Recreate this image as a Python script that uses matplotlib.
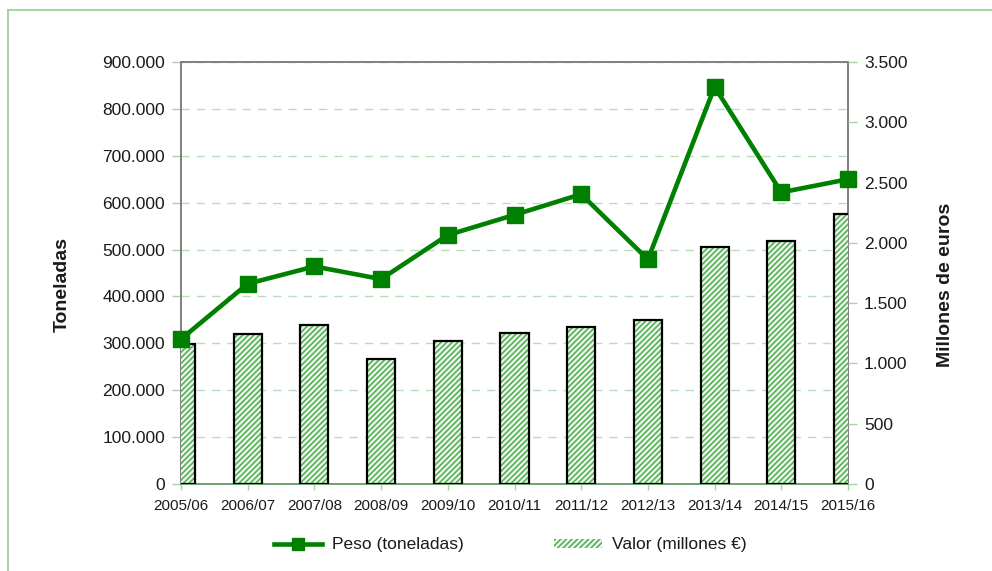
import matplotlib
matplotlib.use("Agg")
import matplotlib.pyplot as plt
from matplotlib.lines import Line2D
from matplotlib.patches import Patch
from matplotlib.ticker import FuncFormatter, MultipleLocator
import numpy as np

categories = ["2005/06", "2006/07", "2007/08", "2008/09", "2009/10", "2010/11",
              "2011/12", "2012/13", "2013/14", "2014/15", "2015/16"]
peso_toneladas = [309000, 427000, 464000, 437000, 531000, 574000,
                  618000, 479000, 847000, 622000, 650000]
valor_millones = [1161, 1247, 1319, 1034, 1186, 1250,
                  1303, 1360, 1968, 2018, 2239]

LINE_GREEN = "#008000"
HATCH_GREEN = "#55b055"
GRID_GREEN = "#b9ddb9"
TICK_GREEN = "#a6d4a6"
TEXT = "#1a1a1a"
FONT = "Liberation Sans"

plt.rcParams["font.family"] = [FONT, "DejaVu Sans"]
plt.rcParams["hatch.linewidth"] = 1.2

W, H = 992, 571
fig = plt.figure(figsize=(W / 100, H / 100), dpi=100, facecolor="white")

l, r, t, b = 181, 848, 62, 484
ax = fig.add_axes([l / W, 1 - b / H, (r - l) / W, (b - t) / H])
x = np.arange(len(categories))

def thousands(v, pos):
    return f"{int(round(v)):,}".replace(",", ".")

# left axis (toneladas) with grid
ax.set_xlim(0, len(categories) - 1)
ax.set_ylim(0, 900000)
ax.yaxis.set_major_locator(MultipleLocator(100000))
ax.yaxis.set_major_formatter(FuncFormatter(thousands))
ax.grid(axis="y", color=GRID_GREEN, linestyle=(0, (6, 5)), linewidth=1.0)
ax.set_xticks(x)
ax.set_xticklabels(categories, fontsize=11, color=TEXT)
ax.tick_params(axis="y", direction="out", length=6.5, width=1, color=TICK_GREEN,
               labelsize=12.5, labelcolor=TEXT, pad=5)
ax.tick_params(axis="x", direction="out", length=4.5, width=1, color=TICK_GREEN,
               labelsize=11, labelcolor=TEXT, pad=6)
for s in ["left", "top", "right"]:
    ax.spines[s].set_color("#7f7f7f")
    ax.spines[s].set_linewidth(1.4)
ax.spines["bottom"].set_color("#6f9f6f")
ax.spines["bottom"].set_linewidth(1.4)

# right axis (millones) with bars
axb = ax.twinx()
axb.set_ylim(0, 3500)
axb.yaxis.set_major_locator(MultipleLocator(500))
axb.yaxis.set_major_formatter(FuncFormatter(thousands))
axb.tick_params(axis="y", direction="out", length=6.5, width=1, color=TICK_GREEN,
                labelsize=12.5, labelcolor=TEXT, pad=5)
for s in axb.spines.values():
    s.set_visible(False)
bw = 0.42
axb.bar(x, valor_millones, width=bw, facecolor="#eef7ee", edgecolor=HATCH_GREEN,
        linewidth=0, hatch="//////", zorder=2)
axb.bar(x, valor_millones, width=bw, fill=False, edgecolor="black",
        linewidth=1.6, zorder=3)

# overlay axis for the line (shares left scale)
axl = ax.twinx()
axl.set_ylim(ax.get_ylim())
axl.set_yticks([])
for s in axl.spines.values():
    s.set_visible(False)
axl.plot(x, peso_toneladas, color=LINE_GREEN, linewidth=3.3, marker="s",
         markersize=11.5, clip_on=False, zorder=5)

# axis titles
fig.text(62 / W, 1 - 284 / H, "Toneladas", rotation=90, ha="center", va="center",
         fontsize=14, fontweight="bold", color=TEXT)
fig.text(946 / W, 1 - 285 / H, "Millones de euros", rotation=90, ha="center",
         va="center", fontsize=14, fontweight="bold", color=TEXT)

# legend
handles = [
    Line2D([], [], color=LINE_GREEN, linewidth=3.3, marker="s", markersize=9),
    Patch(facecolor="#eef7ee", edgecolor=HATCH_GREEN, linewidth=0, hatch="//////"),
]
labels = ["Peso (toneladas)", "Valor (millones €)"]
fig.legend(handles, labels, loc="center", bbox_to_anchor=(510 / W, 1 - 545 / H),
           ncol=2, frameon=False, fontsize=12.5, handlelength=2.8,
           handleheight=0.45, handletextpad=0.55, columnspacing=5.2,
           labelcolor=TEXT)

# figure border (left and top lines)
fig.add_artist(Line2D([8 / W, 8 / W], [0, 1 - 10 / H], color="#93cc93", linewidth=1.2))
fig.add_artist(Line2D([8 / W, 1], [1 - 10 / H, 1 - 10 / H], color="#93cc93", linewidth=1.2))

fig.savefig("out.png", dpi=100, facecolor="white")
